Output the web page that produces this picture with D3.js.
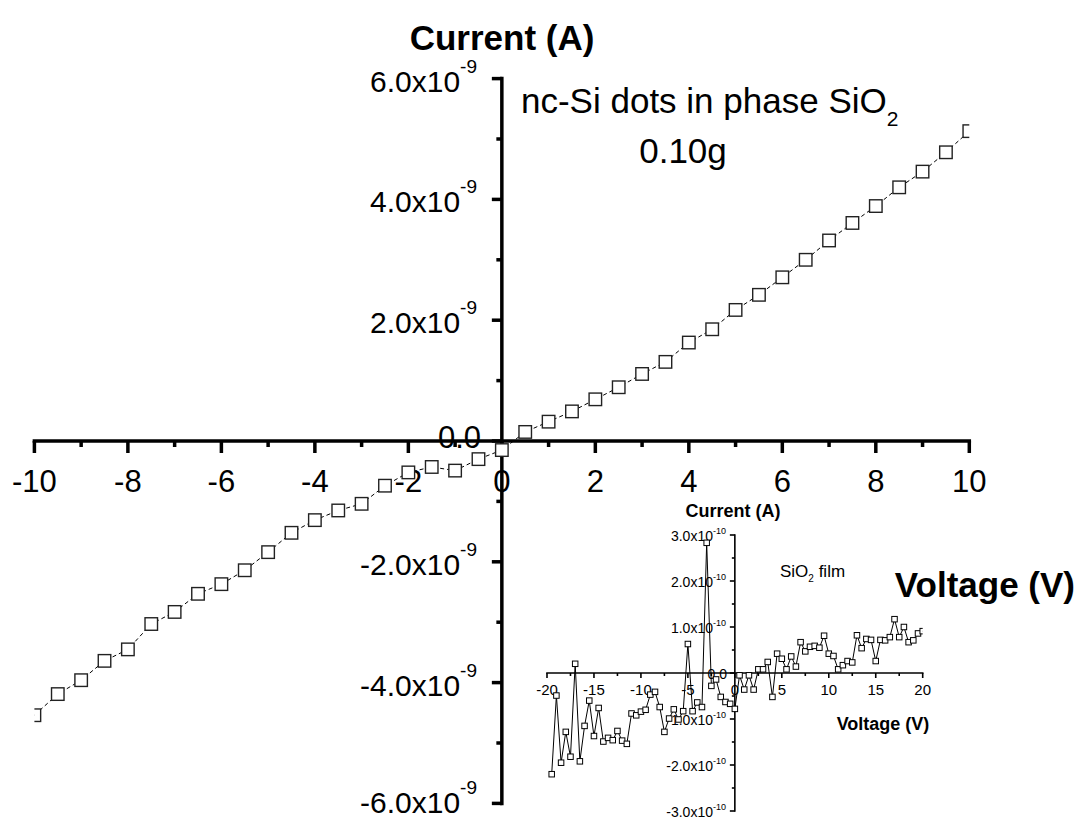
<!DOCTYPE html>
<html>
<head>
<meta charset="utf-8">
<script src="https://cdn.jsdelivr.net/npm/d3@7"></script>
<style>
  html, body { margin: 0; padding: 0; background: #fff; }
  svg { display: block; font-family: Arial, "Liberation Sans", sans-serif; }
</style>
</head>
<body>
<svg id="chart" width="1081" height="818"></svg>
<script>
// I–V sweep of nc-Si dots embedded in SiO2 (0.10 g), current in units of 1e-9 A
const mainVoltage = [-10, -9.5, -9, -8.5, -8, -7.5, -7, -6.5, -6, -5.5, -5, -4.5, -4, -3.5, -3, -2.5, -2, -1.5, -1, -0.5,
  0, 0.5, 1, 1.5, 2, 2.5, 3, 3.5, 4, 4.5, 5, 5.5, 6, 6.5, 7, 7.5, 8, 8.5, 9, 9.5, 10];
const mainCurrent = [-4.54, -4.19, -3.96, -3.64, -3.45, -3.03, -2.83, -2.53, -2.37, -2.14, -1.84, -1.52, -1.31, -1.15, -1.04, -0.74, -0.52, -0.43, -0.49, -0.30,
  -0.15, 0.15, 0.32, 0.49, 0.69, 0.89, 1.11, 1.31, 1.63, 1.85, 2.17, 2.42, 2.71, 3.00, 3.32, 3.61, 3.89, 4.20, 4.46, 4.78, 5.13];
const mainXTicks = [-10, -8, -6, -4, -2, 0, 2, 4, 6, 8, 10];
const mainYTicks = [-6, -4, -2, 0, 2, 4, 6];

// Reference sweep of a plain SiO2 film, current in units of 1e-10 A
const insetVoltage = [-19.5, -19, -18.5, -18, -17.5, -17, -16.5, -16, -15.5, -15, -14.5, -14, -13.5, -13, -12.5, -12, -11.5, -11, -10.5, -10,
  -9.5, -9, -8.5, -8, -7.5, -7, -6.5, -6, -5.5, -5, -4.5, -4, -3.5, -3, -2.5, -2, -1.5, -1, -0.5, 0,
  0.5, 1, 1.5, 2, 2.5, 3, 3.5, 4, 4.5, 5, 5.5, 6, 6.5, 7, 7.5, 8, 8.5, 9, 9.5, 10,
  10.5, 11, 11.5, 12, 12.5, 13, 13.5, 14, 14.5, 15, 15.5, 16, 16.5, 17, 17.5, 18, 18.5, 19, 19.5, 20];
const insetCurrent = [-2.20, -0.49, -1.95, -1.28, -1.82, 0.20, -1.92, -1.15, -0.60, -1.37, -0.76, -1.49, -1.41, -1.46, -1.26, -1.47, -1.54, -0.88, -0.92, -0.84,
  -0.80, -0.47, -0.41, -0.74, -1.28, -0.99, -0.79, -1.01, -0.83, 0.63, -0.83, -0.64, -0.74, 2.83, -0.28, -0.14, -0.52, -0.63, -0.67, -0.78,
  -0.05, -0.36, -0.05, -0.36, 0.08, 0.08, 0.24, -0.52, 0.42, 0.31, 0.08, 0.36, 0.14, 0.67, 0.47, 0.57, 0.59, 0.55, 0.81, 0.42,
  0.37, 0.08, 0.17, 0.26, 0.23, 0.82, 0.54, 0.74, 0.72, 0.26, 0.72, 0.71, 0.78, 1.17, 0.78, 1.00, 0.67, 0.71, 0.86, 0.91];
const insetXTicks = [-20, -15, -10, -5, 0, 5, 10, 15, 20];
const insetYTicks = [-3, -2, -1, 0, 1, 2, 3];

const svg = d3.select("#chart");

// plain hyphen-minus, as printed on the axes
const num = d => String(d);
const fixed1 = d => d.toFixed(1);

// Draws a pair of crossing axes through the origin, Origin-style
function crossedAxes(g, cfg) {
  const { x, y, xTicks, yTicks, xMinor, yMinor, lw, majX, minX, majY, minY } = cfg;
  const x0 = x(0), y0 = y(0);
  const xr = x.range(), yr = y.range();

  g.selectAll(".xmin").data(xMinor).join("line")
    .attr("x1", d => x(d)).attr("x2", d => x(d))
    .attr("y1", y0).attr("y2", y0 + minX)
    .attr("stroke", "#000").attr("stroke-width", lw);
  g.selectAll(".ymin").data(yMinor).join("line")
    .attr("x1", x0).attr("x2", x0 - minY)
    .attr("y1", d => y(d)).attr("y2", d => y(d))
    .attr("stroke", "#000").attr("stroke-width", lw);
  g.selectAll(".xmaj").data(xTicks).join("line")
    .attr("x1", d => x(d)).attr("x2", d => x(d))
    .attr("y1", y0).attr("y2", y0 + majX)
    .attr("stroke", "#000").attr("stroke-width", lw);
  g.selectAll(".ymaj").data(yTicks).join("line")
    .attr("x1", x0).attr("x2", x0 - majY)
    .attr("y1", d => y(d)).attr("y2", d => y(d))
    .attr("stroke", "#000").attr("stroke-width", lw);
  g.append("line").attr("x1", xr[0] - lw / 2).attr("x2", xr[1] + lw / 2)
    .attr("y1", y0).attr("y2", y0).attr("stroke", "#000").attr("stroke-width", lw);
  g.append("line").attr("x1", x0).attr("x2", x0)
    .attr("y1", yr[0] + lw / 2).attr("y2", yr[1] - lw / 2).attr("stroke", "#000").attr("stroke-width", lw);
}

function sciLabel(g, yPos, xRight, mant, expo, fs, sfs, dy, sdy) {
  const t = g.append("text")
    .attr("x", xRight).attr("y", yPos + dy)
    .attr("text-anchor", "end")
    .attr("font-size", fs);
  if (expo === null) { t.text(mant); return; }
  t.append("tspan").text(mant);
  t.append("tspan").attr("font-size", sfs).attr("dy", -sdy).text(expo);
}

// ---------------- main chart ----------------
const x = d3.scaleLinear().domain([-10, 10]).range([34.4, 969.3]);
const y = d3.scaleLinear().domain([-6, 6]).range([803.4, 78.6]);

const main = svg.append("g");
svg.append("defs").append("clipPath").attr("id", "clipMain")
  .append("rect").attr("x", x(-10)).attr("y", 0).attr("width", x(10) - x(-10)).attr("height", 818);

crossedAxes(main, {
  x, y,
  xTicks: mainXTicks, yTicks: mainYTicks,
  xMinor: d3.range(-9, 10, 2), yMinor: d3.range(-5, 6, 2),
  lw: 3.5, majX: 12, minX: 6, majY: 10, minY: 5.5
});

main.selectAll(".xl").data(mainXTicks).join("text")
  .attr("x", d => x(d)).attr("y", 492)
  .attr("text-anchor", "middle").attr("font-size", 31)
  .text(num);

mainYTicks.forEach(v => {
  if (v === 0) {
    sciLabel(main, y(v), 481, "0.0", null, 31, 0, 7, 0);
  } else {
    const dy = v === -6 ? 10 : 13;
    sciLabel(main, y(v), 477, fixed1(v) + "x10", "-9", 30, 19, dy, 19);
  }
});

const mainPlot = main.append("g").attr("clip-path", "url(#clipMain)");
const mainLine = d3.line().x((d, i) => x(mainVoltage[i])).y(d => y(d));
mainPlot.append("path").datum(mainCurrent)
  .attr("d", mainLine).attr("fill", "none")
  .attr("stroke", "#000").attr("stroke-width", 1)
  .attr("stroke-dasharray", "4,3");
const ms = 12.5;
mainPlot.selectAll(".m").data(mainCurrent).join("rect")
  .attr("x", (d, i) => x(mainVoltage[i]) - ms / 2)
  .attr("y", d => y(d) - ms / 2)
  .attr("width", ms).attr("height", ms)
  .attr("fill", "#fff").attr("stroke", "#222").attr("stroke-width", 1.4);

main.append("text").attr("x", 502).attr("y", 50).attr("text-anchor", "middle")
  .attr("font-size", 35).attr("font-weight", "bold").text("Current (A)");
main.append("text").attr("x", 1075).attr("y", 597).attr("text-anchor", "end")
  .attr("font-size", 35).attr("font-weight", "bold").text("Voltage (V)");

const ann = main.append("text").attr("x", 521).attr("y", 113).attr("font-size", 35);
ann.append("tspan").text("nc-Si dots in phase SiO");
ann.append("tspan").attr("font-size", 21).attr("dy", 13).text("2");
main.append("text").attr("x", 683).attr("y", 163).attr("text-anchor", "middle")
  .attr("font-size", 35).text("0.10g");

// ---------------- inset ----------------
const xi = d3.scaleLinear().domain([-20, 20]).range([547, 922.7]);
const yi = d3.scaleLinear().domain([-3, 3]).range([811, 535]);
const inset = svg.append("g");
svg.select("defs").append("clipPath").attr("id", "clipInset")
  .append("rect").attr("x", xi(-20)).attr("y", 0).attr("width", xi(20) - xi(-20)).attr("height", 818);

crossedAxes(inset, {
  x: xi, y: yi,
  xTicks: insetXTicks, yTicks: insetYTicks,
  xMinor: d3.range(-17.5, 20, 5), yMinor: d3.range(-2.5, 3, 1),
  lw: 1.6, majX: 5, minX: 3, majY: 5, minY: 3
});

inset.selectAll(".xl").data(insetXTicks).join("text")
  .attr("x", d => xi(d)).attr("y", 695)
  .attr("text-anchor", "middle").attr("font-size", 15)
  .text(num);

insetYTicks.forEach(v => {
  if (v === 0) {
    sciLabel(inset, yi(v), 727, "0.0", null, 14, 0, 5.5, 0);
  } else {
    sciLabel(inset, yi(v), 726, fixed1(v) + "x10", "-10", 14, 9, 5.5, 7);
  }
});

const insetPlot = inset.append("g").attr("clip-path", "url(#clipInset)");
const insetLine = d3.line().x((d, i) => xi(insetVoltage[i])).y(d => yi(d));
insetPlot.append("path").datum(insetCurrent)
  .attr("d", insetLine).attr("fill", "none")
  .attr("stroke", "#000").attr("stroke-width", 1);
const is = 5.5;
insetPlot.selectAll(".m").data(insetCurrent).join("rect")
  .attr("x", (d, i) => xi(insetVoltage[i]) - is / 2)
  .attr("y", d => yi(d) - is / 2)
  .attr("width", is).attr("height", is)
  .attr("fill", "#fff").attr("stroke", "#000").attr("stroke-width", 1);

inset.append("text").attr("x", 733).attr("y", 517).attr("text-anchor", "middle")
  .attr("font-size", 18).attr("font-weight", "bold").text("Current (A)");
inset.append("text").attr("x", 883).attr("y", 730).attr("text-anchor", "middle")
  .attr("font-size", 18).attr("font-weight", "bold").text("Voltage (V)");
const film = inset.append("text").attr("x", 780).attr("y", 577).attr("font-size", 17);
film.append("tspan").text("SiO");
film.append("tspan").attr("font-size", 10).attr("dy", 5).text("2");
film.append("tspan").attr("dy", -5).text(" film");
</script>
</body>
</html>
